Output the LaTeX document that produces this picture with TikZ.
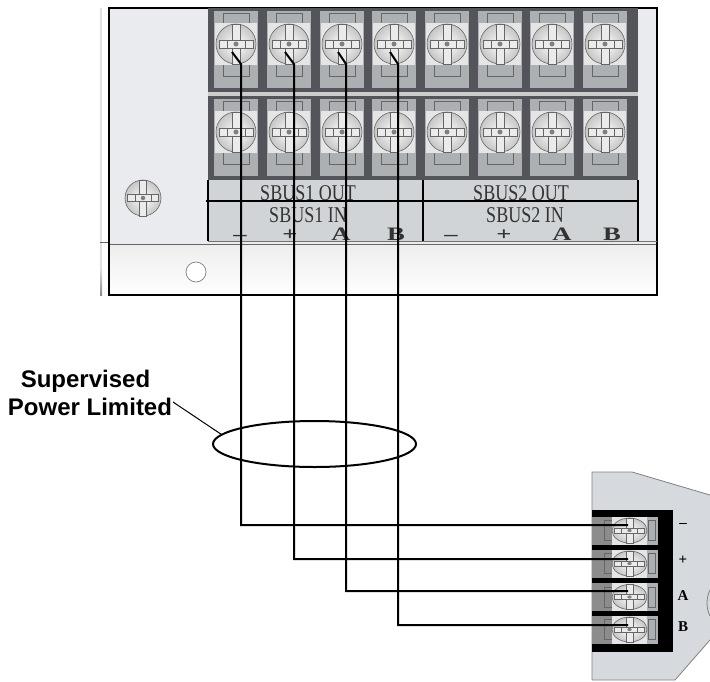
\documentclass[tikz,border=0pt]{standalone}
\usepackage{fontspec}
\setmainfont{Liberation Sans}
\newfontfamily\serifface{Liberation Serif}
\usetikzlibrary{positioning}
\usetikzlibrary{shapes.geometric}
\definecolor{panelgray}{RGB}{233,235,238}
\definecolor{blockdark}{RGB}{84,85,90}
\definecolor{cellgray}{RGB}{172,176,178}
\definecolor{labelgray}{RGB}{209,212,215}
\definecolor{devgray}{RGB}{214,217,222}
\tikzset{
    wire/.style={line width=2pt, black},
    edgeline/.style={line width=1.5pt, black},
    partline/.style={gray!80!black, line width=0.6pt},
    slabel/.style={font=\serifface\fontsize{18}{18}\selectfont, text=black!80, inner sep=0pt, anchor=base},
    pinlabel/.style={font=\serifface\bfseries\fontsize{19}{19}\selectfont, text=black!80, inner sep=0pt, anchor=base},
    devlabel/.style={font=\serifface\bfseries\fontsize{15}{15}\selectfont, inner sep=0pt},
    calllabel/.style={font=\bfseries\fontsize{24}{28}\selectfont, align=center, inner sep=0pt}
}
% x, y, xscale, yscale
\newcommand{\screwhead}[4]{%
    \begin{scope}[shift={(#1,#2)}, xscale=#3, yscale=#4]
        \shade[inner color=white, outer color=gray!45] (0,0) circle (20);
        \draw[partline] (0,0) circle (20);
        \draw[partline, fill=white!92!black] (-4,-20) rectangle (4,20);
        \draw[partline, fill=white!92!black] (-17,-4) rectangle (17,4);
        \draw[partline] (-9,-4) -- (-9,4) (9,-4) -- (9,4);
        \fill[gray] (0,0) circle (2.5);
    \end{scope}}
\begin{document}
\begin{tikzpicture}[x=1pt, y=-1pt]
    \useasboundingbox (0,0) rectangle (710,681);

    % main panel
    \fill[panelgray] (109,8) rectangle (657,244);
    \shade[top color=black!7, bottom color=white] (109,244) rectangle (657,295);
    \shade[top color=black!12, bottom color=black!45] (100,268) rectangle (102,295);
    \fill[black!12] (100,8) rectangle (102,268);
    \draw[line width=0.8pt, black!60] (100,242) -- (109,242);
    \draw[line width=1pt, black!60] (109,244) -- (657,244);
    \draw[edgeline] (109,8) rectangle (657,295);
    \draw[gray, fill=white, line width=0.7pt] (196,272) circle (10);
    \screwhead{143}{198}{0.9}{0.9}

    % terminal block
    \fill[blockdark] (208,8) rectangle (638,180);
    \fill[black!20] (208,92) rectangle (638,96);
    \foreach \x in {236,289,342,394,447,500,552,605} {
        \foreach \y in {44,132} {
            \fill[cellgray] (\x-22,\y-33) rectangle (\x+22,\y+44);
            \draw[partline] (\x-13,\y-31) rectangle (\x+13,\y-20);
            \draw[partline] (\x-13,\y+20) rectangle (\x+13,\y+32);
            \fill[white!90!black] (\x-21,\y-21) rectangle (\x+21,\y+21);
            \screwhead{\x}{\y}{1}{1}
        }
    }

    % label strip
    \fill[labelgray] (208,180) rectangle (638,241);
    \node[slabel] (out1) at (308,200) {\scalebox{1}[1.25]{SBUS1 OUT}};
    \node[slabel] (in1) at (308,222) {\scalebox{1}[1.25]{SBUS1 IN}};
    \node[slabel] (out2) at (521,200) {\scalebox{1}[1.25]{SBUS2 OUT}};
    \node[slabel] (in2) at (525,222) {\scalebox{1}[1.25]{SBUS2 IN}};
    \foreach \x/\t/\n in {240/\textendash/m1,290/+/p1,341/A/a1,396/B/b1,451/\textendash/m2,504/+/p2,562/A/a2,612/B/b2}
        \node[pinlabel] (\n) at (\x,240) {\scalebox{1.4}[1]{\t}};
    \draw[edgeline] (208,180) -- (208,241) (423,180) -- (423,241) (638,180) -- (638,241);
    \draw[edgeline] (206,201) -- (638,201);
    \draw[line width=1pt, black!55] (208,241.5) -- (657,241.5);

    % device on the right
    \fill[devgray] (592,472) -- (632,472) -- (710,495) -- (710,640) -- (675,680) -- (592,680) -- cycle;
    \draw[gray, line width=0.8pt] (592,680) -- (592,472) -- (632,472) -- (710,495);
    \draw[gray, line width=0.8pt] (710,640) -- (675,680) -- (592,680);
    \draw[gray, line width=0.8pt] (710,590) .. controls (706,598) and (706,608) .. (710,616);
    \fill[black] (592,510) rectangle (673,652);
    \foreach \y in {530.5,563.5,597,629.5} {
        \fill[cellgray] (592,\y-14) rectangle (658,\y+14);
        \fill[black!45] (592,\y-14) rectangle (612,\y+14);
        \draw[partline] (604,\y-10) rectangle (612,\y+10);
        \draw[partline] (648,\y-10) rectangle (655,\y+10);
        \fill[white!90!black] (612,\y-14) rectangle (647,\y+14);
        \screwhead{629.5}{\y}{0.875}{0.625}
    }
    \foreach \y/\t/\n in {525/\textendash/dm,560/+/dp,596/A/da,627/B/db}
        \node[devlabel] (\n) at (683,\y) {\t};

    % wires
    \coordinate (s1) at (232,52);
    \coordinate (s2) at (285,52);
    \coordinate (s3) at (338,52);
    \coordinate (s4) at (390,52);
    \coordinate (d1) at (628,525);
    \coordinate (d2) at (628,559);
    \coordinate (d3) at (628,591);
    \coordinate (d4) at (628,625);
    \draw[wire] (s1) -- (241,64) -- (241,525) -- (d1);
    \draw[wire] (s2) -- (294,64) -- (294,559) -- (d2);
    \draw[wire] (s3) -- (346,64) -- (346,591) -- (d3);
    \draw[wire] (s4) -- (398,64) -- (398,625) -- (d4);

    % cable loop
    \node[draw, ellipse, line width=2pt, minimum width=203pt, minimum height=46pt, inner sep=0pt] (loop) at (314.5,444) {};
    \node[calllabel] (power) at (90,393) {Supervised\hspace*{9pt}\\Power Limited};
    \coordinate (leadstart) at (173,402);
    \draw[line width=1pt] (leadstart) -- (loop.174);
\end{tikzpicture}
\end{document}
